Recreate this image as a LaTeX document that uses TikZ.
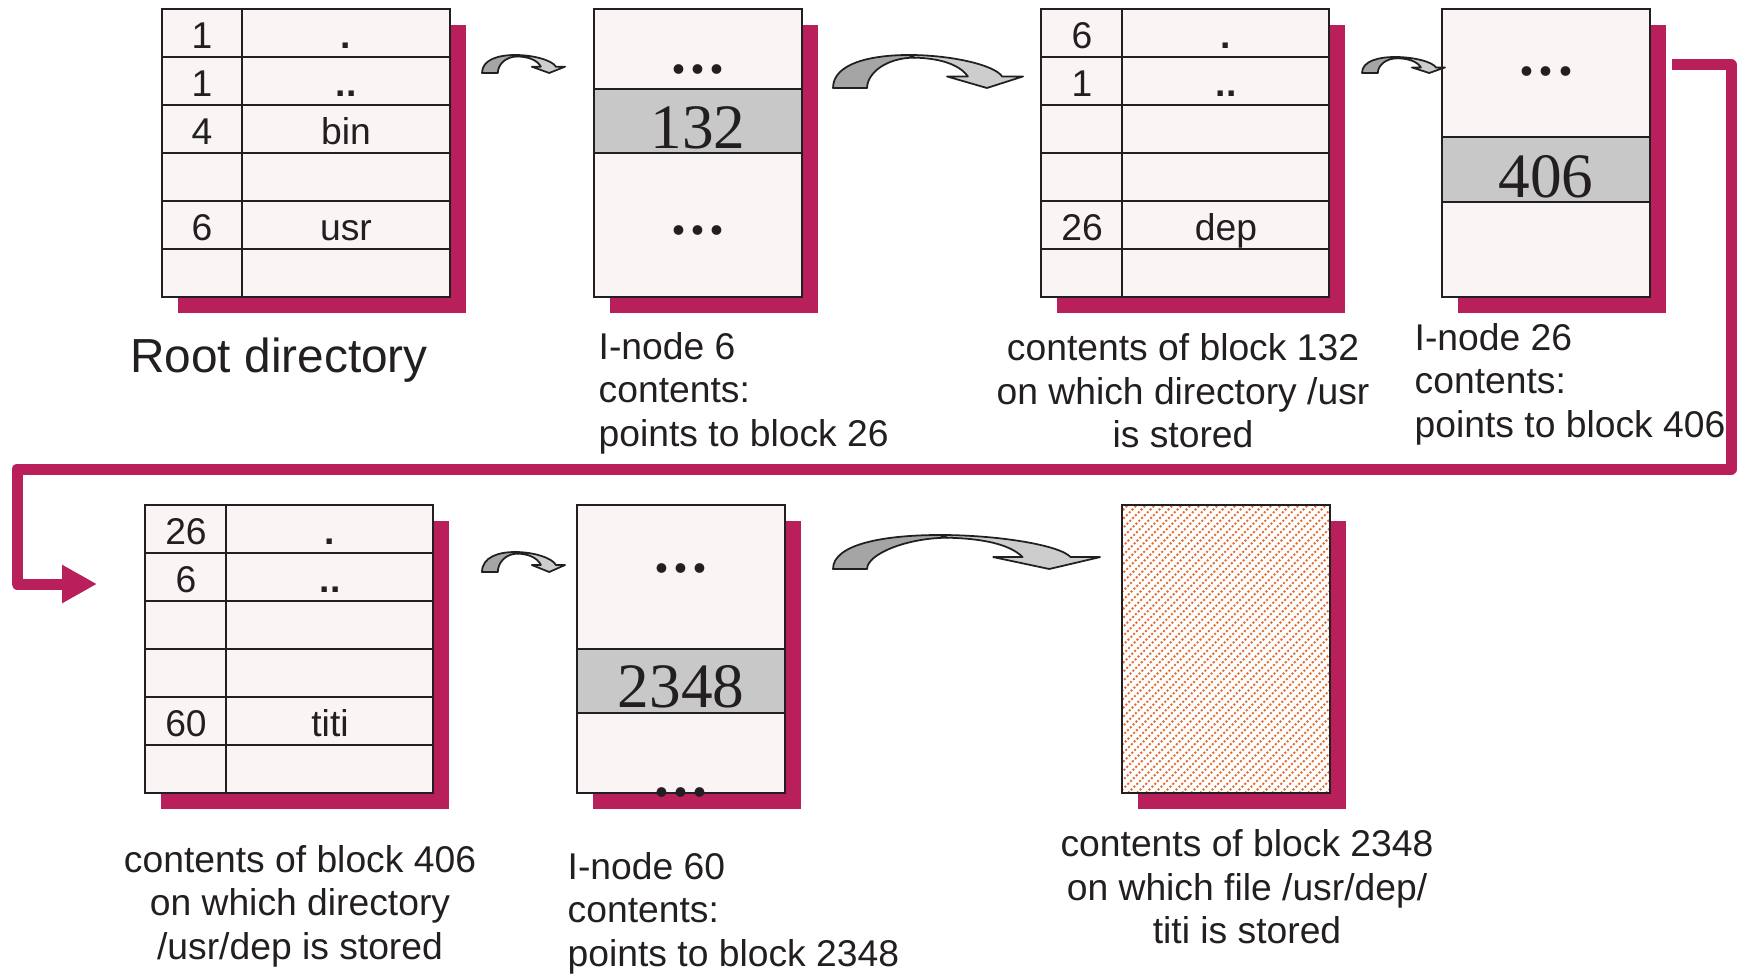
\documentclass[tikz,border=0pt]{standalone}
\usepackage{fontspec}
\setmainfont{Liberation Sans}
\newfontfamily\numfont{Liberation Serif}
\usetikzlibrary{arrows.meta, positioning, calc, shadows}

\definecolor{plum}{RGB}{185,31,90}
\definecolor{ink}{RGB}{35,31,32}
\definecolor{cellbg}{RGB}{248,245,244}
\definecolor{bandgrey}{RGB}{200,200,200}
\definecolor{bentgrey}{RGB}{165,165,165}
\definecolor{bentpale}{RGB}{205,205,205}
\definecolor{hatchorange}{RGB}{228,110,50}

% grey ribbon arrow: #1 = foot corner, #2 = far top corner, #3 = foot width
\newcommand{\bentarrow}[3]{%
  \path[bentdark] let \p1=(#1), \p2=(#2), \n1={\x2-\x1}, \n2={\y2-\y1} in
    (\x1,\y1) .. controls (\x1,{\y1+0.75*\n2}) and ({\x1+0.2*\n1},\y2) .. ({\x1+0.4*\n1},\y2)
    -- ({\x1+0.43*\n1},{\y2-0.08*\n2})
    .. controls ({\x1+0.28*\n1},{\y2-0.08*\n2}) and ({\x1+#3},{\y1+0.45*\n2}) .. ({\x1+#3},\y1) -- cycle;
  \path[bentlight] let \p1=(#1), \p2=(#2), \n1={\x2-\x1}, \n2={\y2-\y1} in
    ({\x1+0.4*\n1},\y2) .. controls ({\x1+0.62*\n1},\y2) and ({\x2-0.15*\n1},{\y1+0.7*\n2}) .. ({\x2-0.11*\n1},{\y1+0.35*\n2})
    -- (\x2,{\y1+0.35*\n2}) -- ({\x1+0.81*\n1},\y1) -- ({\x1+0.6*\n1},{\y1+0.35*\n2})
    -- ({\x1+0.71*\n1},{\y1+0.35*\n2})
    .. controls ({\x1+0.66*\n1},{\y1+0.75*\n2}) and ({\x1+0.55*\n1},{\y2-0.1*\n2}) .. ({\x1+0.43*\n1},{\y2-0.08*\n2}) -- cycle;
}
% spaced ellipsis for the i-node boxes
\newcommand{\skipdots}{.\kern1.3pt.\kern1.3pt.}

\begin{document}
\begin{tikzpicture}[
    x=0.1mm, y=-0.1mm,
    font=\fontsize{10.6}{12.4}\selectfont, text=ink,
    % 1. Blocks and i-nodes
    dirbox/.style={draw=ink, line width=0.7pt, fill=cellbg, inner sep=0pt, outer sep=0pt,
        minimum width=28.8mm, minimum height=28.8mm,
        drop shadow={shadow xshift=1.6mm, shadow yshift=-1.6mm, fill=plum, opacity=1}},
    inobox/.style={dirbox, minimum width=20.8mm},
    rowline/.style={draw=ink, line width=0.6pt},
    band/.style={draw=ink, line width=0.6pt, fill=bandgrey},
    cell/.style={inner sep=0pt, text height=1.7ex, text depth=0pt},
    bignum/.style={font=\numfont\fontsize{18}{20}\selectfont, inner sep=0pt, anchor=base},
    ell/.style={font=\numfont\bfseries\fontsize{17}{19}\selectfont, inner sep=0pt, anchor=base},
    hatch/.style={draw=hatchorange, line width=0.2mm, dash pattern=on 0.2mm off 0.2mm},
    lbl/.style={inner sep=0pt},
    % 2. Arrows
    bentdark/.style={fill=bentgrey, draw=ink, line width=0.5pt, line join=round},
    bentlight/.style={fill=bentpale, draw=ink, line width=0.5pt, line join=round},
    wrap/.style={draw=plum, line width=1.1mm, line join=round, -{Triangle[length=3.5mm,width=3.6mm]}}
]
\path[use as bounding box] (0,0) rectangle (1737,975);

% ===============================
% Top row
% ===============================
% Root directory
\node[dirbox] (root) at (306,153) {};
\draw[rowline] ($(root.north west)+(80,0)$) -- ($(root.south west)+(80,0)$);
\foreach \k in {1,...,5}
    \draw[rowline] ($(root.north west)+(0,48*\k)$) -- ($(root.north east)+(0,48*\k)$);
\foreach \idx/\fname [count=\k from 0] in {1/\textbf{.}, 1/\textbf{..}, 4/bin, {}/{}, 6/usr, {}/{}} {
    \node[cell] (root-n\k) at ($(root.north west)+(40,24+48*\k)$) {\idx};
    \node[cell] (root-f\k) at ($(root.north west)+(184,24+48*\k)$) {\fname};
}
\node[font=\fontsize{13.6}{16}\selectfont, inner sep=0pt, below=4mm of root, xshift=-2.7mm] (root-txt) {Root directory};

% I-node 6
\node[inobox] (ino6) at (698,153) {};
\draw[band] ($(ino6.north west)+(0,80)$) rectangle ($(ino6.north east)+(0,144)$);
\node[ell] (ino6-top) at ($(ino6.north)+(0,65)$) {\skipdots};
\node[bignum] (ino6-blk) at ($(ino6.north)+(0,139)$) {132};
\node[ell] (ino6-bot) at ($(ino6.north)+(0,225)$) {\skipdots};
\node[lbl, align=left, anchor=west] (ino6-txt) at (598,393) {I-node 6\\contents:\\points to block 26};

% Block 132
\node[dirbox] (blk132) at (1185,153) {};
\draw[rowline] ($(blk132.north west)+(81,0)$) -- ($(blk132.south west)+(81,0)$);
\foreach \k in {1,...,5}
    \draw[rowline] ($(blk132.north west)+(0,48*\k)$) -- ($(blk132.north east)+(0,48*\k)$);
\foreach \idx/\fname [count=\k from 0] in {6/\textbf{.}, 1/\textbf{..}, {}/{}, {}/{}, 26/dep, {}/{}} {
    \node[cell] (blk132-n\k) at ($(blk132.north west)+(41,24+48*\k)$) {\idx};
    \node[cell] (blk132-f\k) at ($(blk132.north west)+(185,24+48*\k)$) {\fname};
}
\node[lbl, align=center] (blk132-txt) at (1183,391) {contents of block 132\\on which directory /usr\\is stored};

% I-node 26
\node[inobox] (ino26) at (1546,153) {};
\draw[band] ($(ino26.north west)+(0,128)$) rectangle ($(ino26.north east)+(0,193)$);
\node[ell] (ino26-top) at ($(ino26.north)+(0,67)$) {\skipdots};
\node[bignum] (ino26-blk) at ($(ino26.north)+(0,188)$) {406};
\node[lbl, align=left, anchor=west] (ino26-txt) at (1414,384) {I-node 26\\contents:\\points to block 406};

% ===============================
% Bottom row
% ===============================
% Block 406
\node[dirbox] (blk406) at (289,649) {};
\draw[rowline] ($(blk406.north west)+(81,0)$) -- ($(blk406.south west)+(81,0)$);
\foreach \k in {1,...,5}
    \draw[rowline] ($(blk406.north west)+(0,48*\k)$) -- ($(blk406.north east)+(0,48*\k)$);
\foreach \idx/\fname [count=\k from 0] in {26/\textbf{.}, 6/\textbf{..}, {}/{}, {}/{}, 60/titi, {}/{}} {
    \node[cell] (blk406-n\k) at ($(blk406.north west)+(41,24+48*\k)$) {\idx};
    \node[cell] (blk406-f\k) at ($(blk406.north west)+(185,24+48*\k)$) {\fname};
}
\node[lbl, align=center] (blk406-txt) at (300,906) {contents of block 406\\on which directory\\/usr/dep is stored};

% I-node 60
\node[inobox] (ino60) at (681,649) {};
\draw[band] ($(ino60.north west)+(0,144)$) rectangle ($(ino60.north east)+(0,208)$);
\node[ell] (ino60-top) at ($(ino60.north)+(0,67)$) {\skipdots};
\node[bignum] (ino60-blk) at ($(ino60.north)+(0,202)$) {2348};
\node[ell] (ino60-bot) at ($(ino60.north)+(0,291)$) {\skipdots};
\node[lbl, align=left, anchor=west] (ino60-txt) at (567,913) {I-node 60\\contents:\\points to block 2348};

% Block 2348 (file data)
\node[inobox, fill=white] (blk2348) at (1226,649) {};
\begin{scope}
    \clip (blk2348.south west) rectangle (blk2348.north east);
    \foreach \i in {0,...,58}
        \draw[hatch] ($(blk2348.south west)+(-300+9*\i,0)$) -- ++(300,-300);
\end{scope}
\draw[ink, line width=0.7pt] (blk2348.south west) rectangle (blk2348.north east);
\node[lbl, align=center] (blk2348-txt) at (1247,887) {contents of block 2348\\on which file /usr/dep/\\titi is stored};

% ===============================
% Lookup arrows
% ===============================
\coordinate (bend1a) at (482,73);   \coordinate (bend1b) at (565,55);
\coordinate (bend2a) at (833,88);   \coordinate (bend2b) at (1023,55);
\coordinate (bend3a) at (1362,73);  \coordinate (bend3b) at (1445,57);
\coordinate (bend4a) at (482,572);  \coordinate (bend4b) at (565,552);
\coordinate (bend5a) at (833,569);  \coordinate (bend5b) at (1100,535);
\bentarrow{bend1a}{bend1b}{4.5pt}
\bentarrow{bend2a}{bend2b}{9.7pt}
\bentarrow{bend3a}{bend3b}{4.5pt}
\bentarrow{bend4a}{bend4b}{4.5pt}
\bentarrow{bend5a}{bend5b}{9.7pt}

% Wrap-around from i-node 26 to block 406
\coordinate (wrapR) at (1731,469);
\coordinate (wrapL) at (17,469);
\draw[wrap] ($(ino26.north east)+(22,56)$) -| (wrapR) -- (wrapL) |- ($(blk406.west)+(-48,-65)$);

\end{tikzpicture}
\end{document}
